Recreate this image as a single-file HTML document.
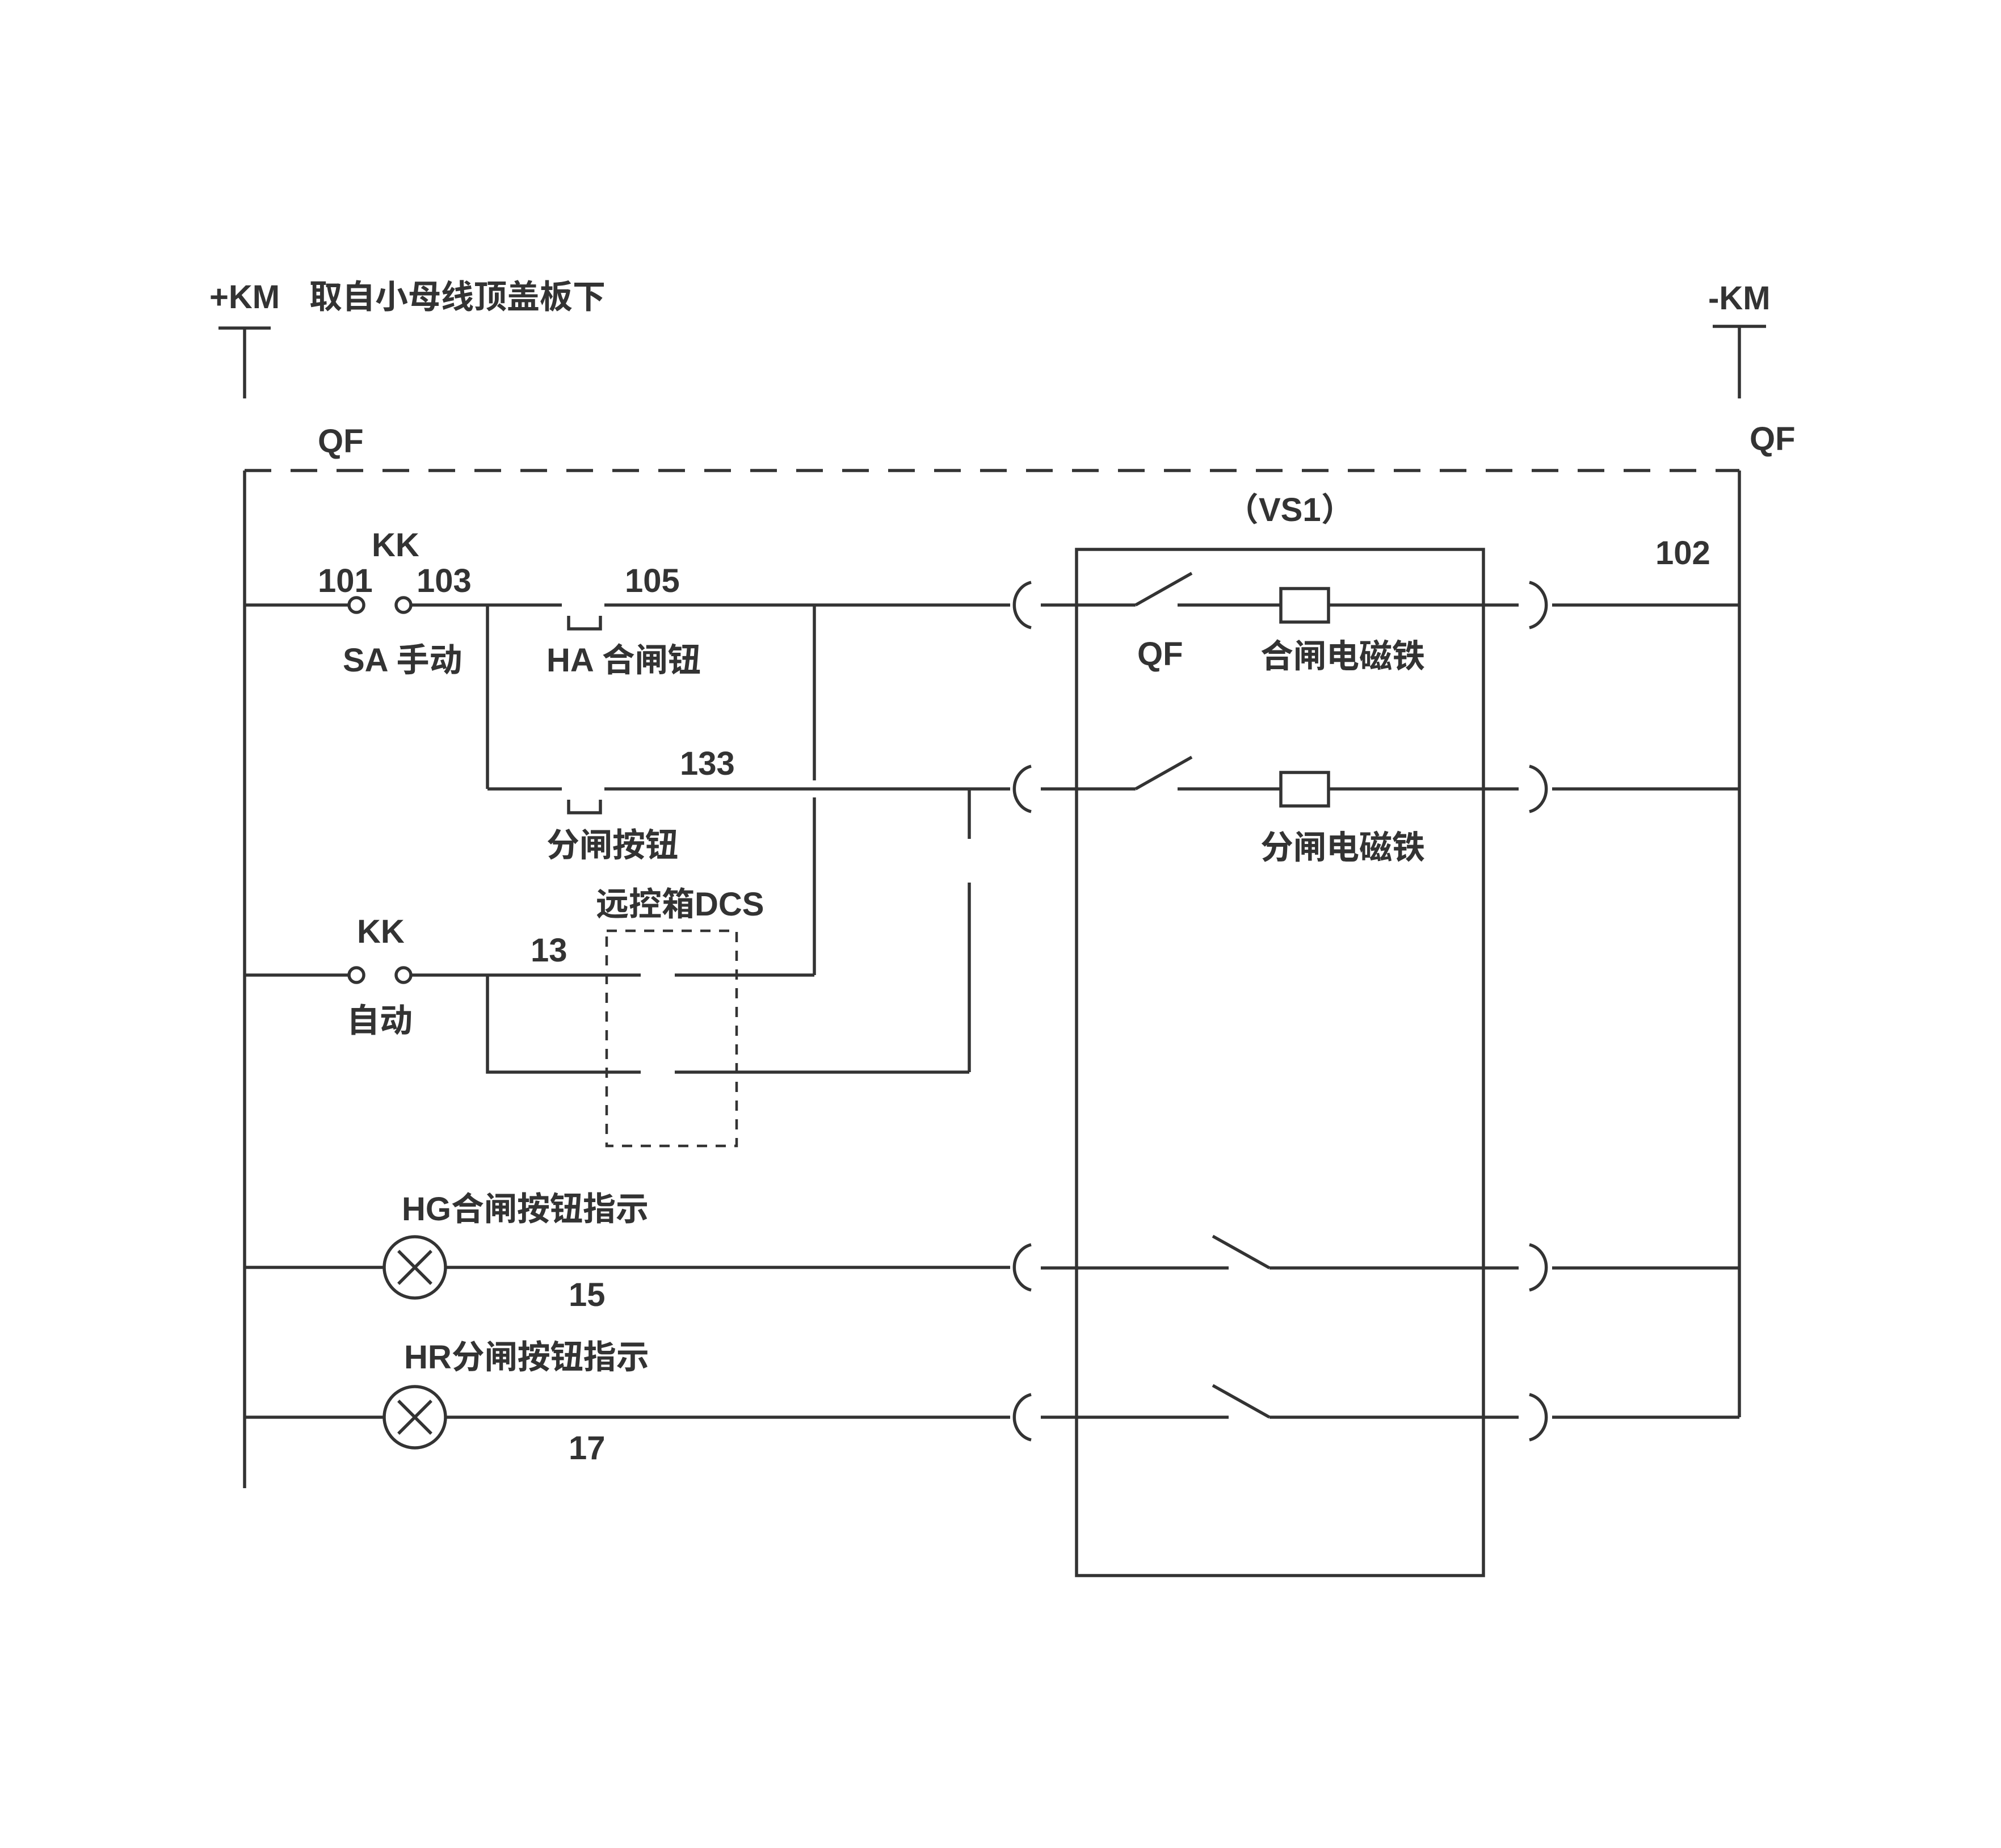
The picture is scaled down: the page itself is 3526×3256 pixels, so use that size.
<!DOCTYPE html>
<html><head><meta charset="utf-8"><style>
html,body{margin:0;padding:0;background:#fff}
svg{display:block}
text{font-family:"Liberation Sans","Noto Sans CJK SC",sans-serif;font-size:58px;font-weight:bold;fill:#333}
</style></head><body>
<svg width="3526" height="3256" viewBox="0 0 3526 3256" xmlns="http://www.w3.org/2000/svg">
<g stroke="#333" stroke-width="5.5" fill="none">
<line x1="385" y1="578" x2="477" y2="578"/>
<line x1="431" y1="578" x2="431" y2="702"/>
<line x1="3018" y1="575" x2="3112" y2="575"/>
<line x1="3065" y1="575" x2="3065" y2="702"/>
<line x1="431" y1="829" x2="3065" y2="829" stroke-dasharray="47,34"/>
<line x1="431" y1="829" x2="431" y2="2622"/>
<line x1="3065" y1="829" x2="3065" y2="2497"/>
<line x1="431" y1="1066" x2="615" y2="1066"/>
<circle cx="628" cy="1066" r="13"/>
<circle cx="711" cy="1066" r="13"/>
<line x1="724" y1="1066" x2="990" y2="1066"/>
<line x1="1065" y1="1066" x2="1780" y2="1066"/>
<polyline points="1002,1085 1002,1108 1058,1108 1058,1085"/>
<line x1="859" y1="1066" x2="859" y2="1390"/>
<line x1="1435" y1="1066" x2="1435" y2="1375"/>
<line x1="1435" y1="1405" x2="1435" y2="1718"/>
<path d="M1817 1026 A38 41 0 0 0 1817 1106"/>
<line x1="1834" y1="1066" x2="2001" y2="1066"/>
<line x1="2001" y1="1066" x2="2100" y2="1010"/>
<line x1="2075" y1="1066" x2="2257" y2="1066"/>
<rect x="2257" y="1037" width="84" height="59"/>
<line x1="2341" y1="1066" x2="2676" y2="1066"/>
<path d="M2695 1026 A38 41 0 0 1 2695 1106"/>
<line x1="2735" y1="1066" x2="3065" y2="1066"/>
<line x1="859" y1="1390" x2="990" y2="1390"/>
<line x1="1065" y1="1390" x2="1780" y2="1390"/>
<polyline points="1002,1409 1002,1432 1058,1432 1058,1409"/>
<line x1="1708" y1="1390" x2="1708" y2="1478"/>
<line x1="1708" y1="1555" x2="1708" y2="1889"/>
<path d="M1817 1350 A38 41 0 0 0 1817 1430"/>
<line x1="1834" y1="1390" x2="2001" y2="1390"/>
<line x1="2001" y1="1390" x2="2100" y2="1334"/>
<line x1="2075" y1="1390" x2="2257" y2="1390"/>
<rect x="2257" y="1361" width="84" height="59"/>
<line x1="2341" y1="1390" x2="2676" y2="1390"/>
<path d="M2695 1350 A38 41 0 0 1 2695 1430"/>
<line x1="2735" y1="1390" x2="3065" y2="1390"/>
<line x1="431" y1="1718" x2="615" y2="1718"/>
<circle cx="628" cy="1718" r="13"/>
<circle cx="711" cy="1718" r="13"/>
<line x1="724" y1="1718" x2="1129" y2="1718"/>
<polyline points="1189,1718 1435,1718"/>
<polyline points="859,1718 859,1889 1129,1889"/>
<line x1="1189" y1="1889" x2="1708" y2="1889"/>
<rect x="1069" y="1640" width="229" height="379" stroke-width="4.5" stroke-dasharray="18,15"/>
<rect x="1897" y="968" width="717" height="1808"/>
<line x1="431" y1="2233" x2="677" y2="2233"/>
<circle cx="731" cy="2233" r="54"/>
<line x1="702" y1="2204" x2="760" y2="2262"/>
<line x1="760" y1="2204" x2="702" y2="2262"/>
<line x1="785" y1="2233" x2="1780" y2="2233"/>
<path d="M1817 2193 A38 41 0 0 0 1817 2273"/>
<line x1="1834" y1="2234" x2="2165" y2="2234"/>
<line x1="2137" y1="2178" x2="2237" y2="2234"/>
<line x1="2237" y1="2234" x2="2676" y2="2234"/>
<path d="M2695 2193 A38 41 0 0 1 2695 2273"/>
<line x1="2735" y1="2234" x2="3065" y2="2234"/>
<line x1="431" y1="2497" x2="677" y2="2497"/>
<circle cx="731" cy="2497" r="54"/>
<line x1="702" y1="2468" x2="760" y2="2526"/>
<line x1="760" y1="2468" x2="702" y2="2526"/>
<line x1="785" y1="2497" x2="1780" y2="2497"/>
<path d="M1817 2457 A38 41 0 0 0 1817 2537"/>
<line x1="1834" y1="2497" x2="2165" y2="2497"/>
<line x1="2137" y1="2441" x2="2237" y2="2497"/>
<line x1="2237" y1="2497" x2="2676" y2="2497"/>
<path d="M2695 2457 A38 41 0 0 1 2695 2537"/>
<line x1="2735" y1="2497" x2="3065" y2="2497"/>
</g>
<text x="369" y="543">+KM</text>
<text x="545" y="543">取自小母线顶盖板下</text>
<text x="3010" y="545">-KM</text>
<text x="560" y="797">QF</text>
<text x="3083" y="793">QF</text>
<text x="2160" y="918">（VS1）</text>
<text x="2917" y="994">102</text>
<text x="655" y="980">KK</text>
<text x="560" y="1043">101</text>
<text x="734" y="1043">103</text>
<text x="1101" y="1043">105</text>
<text x="604" y="1183">SA 手动</text>
<text x="963" y="1183">HA 合闸钮</text>
<text x="2004" y="1172">QF</text>
<text x="2221" y="1176">合闸电磁铁</text>
<text x="1198" y="1365">133</text>
<text x="963" y="1509">分闸按钮</text>
<text x="2221" y="1513">分闸电磁铁</text>
<text x="1050" y="1613">远控箱DCS</text>
<text x="629" y="1661">KK</text>
<text x="935" y="1694">13</text>
<text x="611" y="1818">自动</text>
<text x="708" y="2150">HG合闸按钮指示</text>
<text x="1002" y="2301">15</text>
<text x="712" y="2411">HR分闸按钮指示</text>
<text x="1002" y="2571">17</text>
</svg>
</body></html>
